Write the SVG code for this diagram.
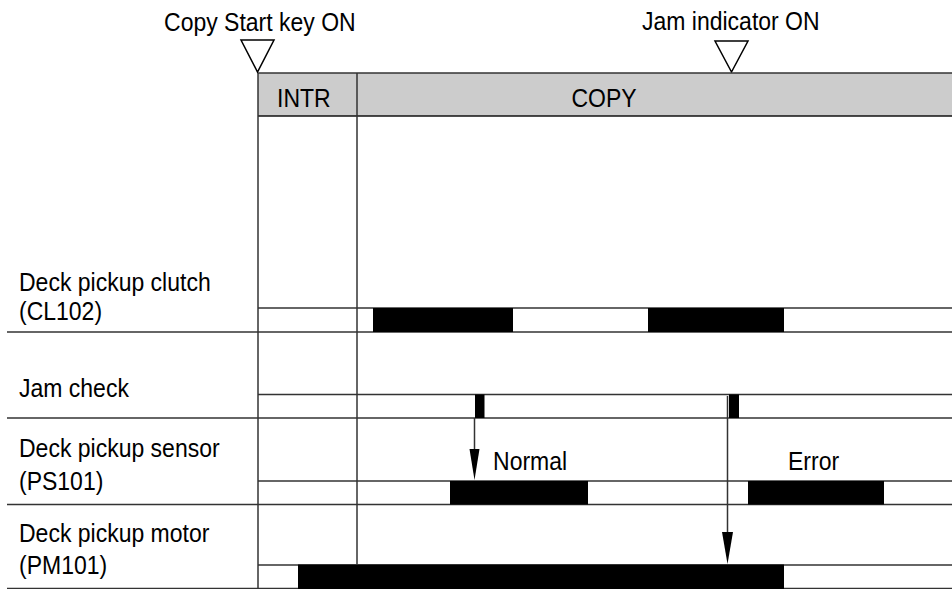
<svg xmlns="http://www.w3.org/2000/svg" width="952" height="589" viewBox="0 0 952 589">
<style>
text{font-family:"Liberation Sans",Arial,sans-serif;font-size:25px;fill:#000}
.ln{stroke:#333;stroke-width:1.5;fill:none}
.hi{fill:#000}
.mk{fill:#fff;stroke:#000;stroke-width:1.5}
</style>
<rect x="0" y="0" width="952" height="589" fill="#fff"/>
<g id="events">
<g id="copy-start">
<text transform="scale(0.92,1)" x="178.3" y="31">Copy Start key ON</text>
<polygon class="mk" points="241,40 274,40 257.5,72"/>
</g>
<g id="jam-indicator">
<text transform="scale(0.92,1)" x="697.8" y="30">Jam indicator ON</text>
<polygon class="mk" points="715,41 748,41 731.5,72"/>
</g>
</g>
<g id="header">
<rect x="258" y="73" width="700" height="43" fill="#ccc"/>
<line class="ln" x1="258" y1="73" x2="952" y2="73"/>
<line x1="258" y1="116" x2="952" y2="116" stroke="#111" stroke-width="1.5"/>
<text transform="scale(0.92,1)" x="301.1" y="107">INTR</text>
<text transform="scale(0.92,1)" x="656.5" y="107" text-anchor="middle">COPY</text>
</g>
<g id="grid">
<line class="ln" x1="258" y1="73" x2="258" y2="589"/>
<line class="ln" x1="357" y1="73" x2="357" y2="564"/>
</g>
<g id="row-clutch">
<text transform="scale(0.92,1)" x="20.65" y="291">Deck pickup clutch</text>
<text transform="scale(0.92,1)" x="20.65" y="320">(CL102)</text>
<line class="ln" x1="258" y1="308" x2="952" y2="308"/>
<line class="ln" x1="7" y1="332" x2="952" y2="332"/>
<rect class="hi" x="373" y="308" width="140" height="24"/>
<rect class="hi" x="648" y="308" width="136" height="24"/>
</g>
<g id="row-jamcheck">
<text transform="scale(0.92,1)" x="20.65" y="397">Jam check</text>
<line class="ln" x1="258" y1="394.5" x2="952" y2="394.5"/>
<line class="ln" x1="7" y1="418" x2="952" y2="418"/>
<rect class="hi" x="475" y="394.5" width="9.5" height="23.5"/>
<rect class="hi" x="729" y="394.5" width="10" height="23.5"/>
</g>
<g id="row-sensor">
<text transform="scale(0.92,1)" x="20.65" y="457">Deck pickup sensor</text>
<text transform="scale(0.92,1)" x="20.65" y="490">(PS101)</text>
<line class="ln" x1="258" y1="481" x2="952" y2="481"/>
<line class="ln" x1="7" y1="504.5" x2="952" y2="504.5"/>
<rect class="hi" x="450" y="481" width="138" height="23.5"/>
<rect class="hi" x="748" y="481" width="136" height="23.5"/>
<text transform="scale(0.92,1)" x="535.9" y="470">Normal</text>
<text transform="scale(0.92,1)" x="856.5" y="470">Error</text>
</g>
<g id="row-motor">
<text transform="scale(0.92,1)" x="20.65" y="542">Deck pickup motor</text>
<text transform="scale(0.92,1)" x="20.65" y="574">(PM101)</text>
<line class="ln" x1="258" y1="565" x2="952" y2="565"/>
<line class="ln" x1="7" y1="588.5" x2="952" y2="588.5"/>
<rect class="hi" x="298" y="564.5" width="486" height="24.5"/>
</g>
<g id="connectors">
<line class="ln" x1="474.5" y1="418" x2="474.5" y2="452"/>
<polygon class="hi" points="469.5,449 479.5,449 474.5,480"/>
<line class="ln" x1="727.5" y1="396" x2="727.5" y2="535"/>
<polygon class="hi" points="722,532 733,532 727.5,564"/>
</g>
</svg>
